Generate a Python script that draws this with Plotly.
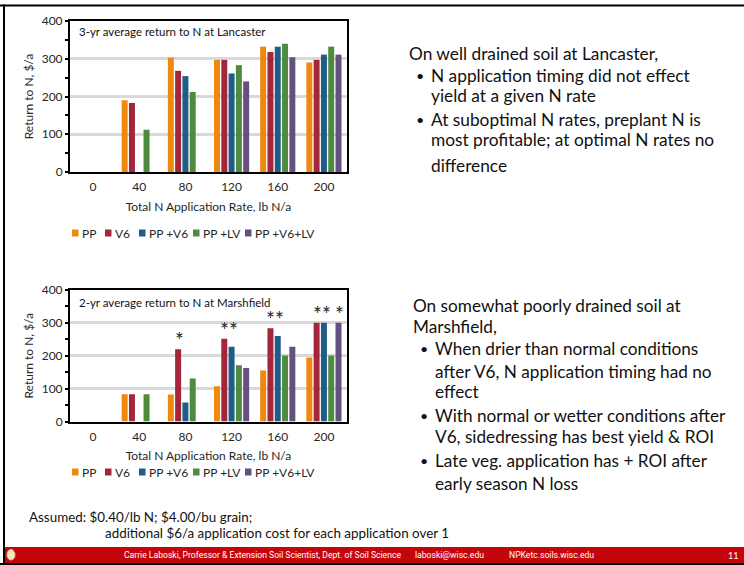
import plotly.graph_objects as go

W, H = 744, 565

# ---- data -------------------------------------------------------------
rates = ["0", "40", "80", "120", "160", "200"]
series = ["PP", "V6", "PP +V6", "PP +LV", "PP +V6+LV"]
colors = ["#F0870F", "#A3263A", "#1F5C87", "#4E8A3F", "#66507F"]

# Lancaster, 3-yr average return to N ($/a)
lan_pp = [None, 190, 303, 297, 332, 290]
lan_v6 = [None, 183, 268, 297, 318, 297]
lan_pp_v6 = [None, None, 254, 261, 332, 311]
lan_pp_lv = [None, 112, 212, 283, 340, 332]
lan_pp_v6_lv = [None, None, None, 240, 304, 311]

# Marshfield, 2-yr average return to N ($/a)
mar_pp = [None, 83, 82, 107, 155, 195]
mar_v6 = [None, 83, 220, 252, 284, 300]
mar_pp_v6 = [None, None, 58, 227, 260, 300]
mar_pp_lv = [None, 83, 131, 171, 201, 201]
mar_pp_v6_lv = [None, None, None, 163, 227, 300]

# significant differences marked with an asterisk (rate, treatment)
mar_sig = [("80", "V6"), ("120", "V6"), ("120", "PP +V6"),
           ("160", "V6"), ("160", "PP +V6"),
           ("200", "V6"), ("200", "PP +V6"), ("200", "PP +V6+LV")]

lan_title = "3-yr average return to N at Lancaster"
mar_title = "2-yr average return to N at Marshfield"
x_title = "Total N Application Rate, lb N/a"
y_title = "Return to N, $/a"

lan_notes = [
    (0, "On well drained soil at Lancaster,"),
    (1, "N application timing did not effect"),
    (2, "yield at a given N rate"),
    (1, "At suboptimal N rates, preplant N is"),
    (2, "most profitable; at optimal N rates no"),
    (2, "difference"),
]
mar_notes = [
    (0, "On somewhat poorly drained soil at"),
    (0, "Marshfield,"),
    (1, "When drier than normal conditions"),
    (2, "after V6, N application timing had no"),
    (2, "effect"),
    (1, "With normal or wetter conditions after"),
    (2, "V6, sidedressing has best yield & ROI"),
    (1, "Late veg. application has + ROI after"),
    (2, "early season N loss"),
]
assumed = ["Assumed: $0.40/lb N; $4.00/bu grain;",
           "additional $6/a application cost for each application over 1"]
footer = ["Carrie Laboski, Professor & Extension Soil Scientist, Dept. of Soil Science",
          "laboski@wisc.edu", "NPKetc.soils.wisc.edu"]
slide_no = "11"

# ---- helpers ------------------------------------------------------------
def px(x):
    return x / W


def py(y):
    return 1 - y / H


BARGAP = 0.21
FONT = "Lato, 'Open Sans', sans-serif"
TXT = "#262626"

fig = go.Figure()

lan_vals = [lan_pp, lan_v6, lan_pp_v6, lan_pp_lv, lan_pp_v6_lv]
mar_vals = [mar_pp, mar_v6, mar_pp_v6, mar_pp_lv, mar_pp_v6_lv]

for name, col, vals in zip(series, colors, lan_vals):
    fig.add_trace(go.Bar(x=rates, y=vals, name=name, marker_color=col,
                         marker_line_width=0, showlegend=False,
                         xaxis="x", yaxis="y"))
for name, col, vals in zip(series, colors, mar_vals):
    fig.add_trace(go.Bar(x=rates, y=vals, name=name, marker_color=col,
                         marker_line_width=0, showlegend=False,
                         xaxis="x2", yaxis="y2"))

annotations = []
shapes = []

# asterisks above marked bars; adjacent marks share one label ("**")
slot = (1 - BARGAP) / len(series)
for ci, rate in enumerate(rates):
    idx = sorted(series.index(t) for r, t in mar_sig if r == rate)
    if not idx:
        continue
    top = max(mar_vals[i][ci] for i in idx)
    runs = [[idx[0]]]
    for i in idx[1:]:
        if i == runs[-1][-1] + 1:
            runs[-1].append(i)
        else:
            runs.append([i])
    for run in runs:
        centre = sum(run) / len(run) - (len(series) - 1) / 2
        annotations.append(dict(
            x=ci + centre * slot + 0.03, y=top,
            xref="x2", yref="y2", text="*" * len(run), showarrow=False,
            yanchor="bottom", xanchor="center", yshift=-5,
            font=dict(family=FONT, size=21, color=TXT)))


def axis_pair(xdom, ydom):
    xa = dict(domain=xdom, type="category", categoryorder="array",
              categoryarray=rates, showline=True, mirror=True,
              linecolor="black", linewidth=2, ticks="", showgrid=False,
              automargin=False, ticklabelstandoff=3,
              tickfont=dict(family=FONT, size=12, color=TXT),
              title=dict(text=x_title, standoff=9,
                         font=dict(family=FONT, size=12, color=TXT)))
    ya = dict(domain=ydom, range=[0, 400], dtick=100, showgrid=True,
              gridcolor="#D9D9D9", gridwidth=2.5, zeroline=False,
              showline=True, mirror=True, linecolor="black", linewidth=2,
              ticks="outside", ticklen=3, tickwidth=2, tickcolor="black",
              automargin=False,
              minor=dict(dtick=50, ticks="outside", ticklen=3, tickwidth=2,
                         tickcolor="black", showgrid=False),
              tickfont=dict(family=FONT, size=12, color=TXT),
              title=dict(text=y_title, standoff=6,
                         font=dict(family=FONT, size=12, color=TXT)))
    return xa, ya


xa1, ya1 = axis_pair([px(70), px(347)], [py(172), py(21)])
xa2, ya2 = axis_pair([px(70), px(347)], [py(421.5), py(290)])
ya1["anchor"] = "x"
xa1["anchor"] = "y"
xa2["anchor"] = "y2"
ya2["anchor"] = "x2"

# chart titles inside the plot frames
for txt, yy in ((lan_title, 31), (mar_title, 302.5)):
    annotations.append(dict(x=px(77), y=py(yy), xref="paper", yref="paper",
                            text=txt, showarrow=False, xanchor="left",
                            yanchor="middle",
                            font=dict(family=FONT, size=11.5, color="#111")))

# legends under each chart
sq_x = [72, 105, 139, 193, 245]
for ly in (233, 472):
    for xs, name, col in zip(sq_x, series, colors):
        shapes.append(dict(type="rect", xref="paper", yref="paper",
                           x0=px(xs), x1=px(xs + 6.5), y0=py(ly + 3.5),
                           y1=py(ly - 3.5), fillcolor=col, line_width=0))
        annotations.append(dict(x=px(xs + 8), y=py(ly), xref="paper",
                                yref="paper", text=name, showarrow=False,
                                xanchor="left", yanchor="middle",
                                font=dict(family=FONT, size=12, color=TXT)))


# bullet notes on the right
def add_notes(notes, x0, y_list, size):
    for (lvl, line), yy in zip(notes, y_list):
        if lvl == 0:
            xx = x0
        else:
            xx = x0 + 22
        if lvl == 1:
            annotations.append(dict(x=px(x0 + 7), y=py(yy), xref="paper",
                                    yref="paper", text="•", showarrow=False,
                                    xanchor="left", yanchor="middle",
                                    font=dict(family=FONT, size=size - 3,
                                              color="#111")))
        annotations.append(dict(x=px(xx), y=py(yy), xref="paper",
                                yref="paper", text=line, showarrow=False,
                                xanchor="left", yanchor="middle",
                                font=dict(family=FONT, size=size,
                                          color="#111")))


add_notes(lan_notes, 407, [54, 75.5, 95.5, 119, 140, 165], 17.3)
add_notes(mar_notes, 411, [305, 326.5, 348, 371, 391.5, 415, 436.5, 460, 483],
          17.2)

# assumptions
annotations.append(dict(x=px(27), y=py(517), xref="paper", yref="paper",
                        text=assumed[0], showarrow=False, xanchor="left",
                        yanchor="middle",
                        font=dict(family=FONT, size=13.4, color="#111")))
annotations.append(dict(x=px(103), y=py(533), xref="paper", yref="paper",
                        text=assumed[1], showarrow=False, xanchor="left",
                        yanchor="middle",
                        font=dict(family=FONT, size=13.4, color="#111")))

# slide frame and footer band
shapes += [
    dict(type="rect", xref="paper", yref="paper", x0=px(4), x1=1,
         y0=py(563), y1=py(547), fillcolor="#C5050C", line_width=0),
    dict(type="line", xref="paper", yref="paper", x0=0, x1=1,
         y0=py(564), y1=py(564), line=dict(color="black", width=2)),
    dict(type="line", xref="paper", yref="paper", x0=0, x1=1,
         y0=py(5.5), y1=py(5.5), line=dict(color="black", width=2)),
    dict(type="line", xref="paper", yref="paper", x0=px(4), x1=px(4),
         y0=py(4.5), y1=0, line=dict(color="black", width=2)),
    # crest
    dict(type="circle", xref="paper", yref="paper", x0=px(7), x1=px(15),
         y0=py(560), y1=py(549.5), fillcolor="#F3E6C8",
         line=dict(color="#E8C66A", width=1)),
]
annotations.append(dict(x=px(11), y=py(555), xref="paper", yref="paper",
                        text="W", showarrow=False,
                        font=dict(family=FONT, size=6, color="#C5050C")))

foot_font = dict(family="Roboto, sans-serif", size=8.6, color="white")
for txt, xx in zip(footer, [122, 413, 507]):
    annotations.append(dict(x=px(xx), y=py(555), xref="paper", yref="paper",
                            text=txt, showarrow=False, xanchor="left",
                            yanchor="middle", font=foot_font))
annotations.append(dict(x=px(740), y=py(555), xref="paper", yref="paper",
                        text=slide_no, showarrow=False, xanchor="right",
                        yanchor="middle",
                        font=dict(family=FONT, size=9, color="white")))

fig.update_layout(
    width=W, height=H, margin=dict(l=0, r=0, t=0, b=0, autoexpand=False),
    paper_bgcolor="white", plot_bgcolor="white",
    barmode="group", bargap=BARGAP, bargroupgap=0.18,
    xaxis=xa1, yaxis=ya1, xaxis2=xa2, yaxis2=ya2,
    annotations=annotations, shapes=shapes, showlegend=False,
    font=dict(family=FONT),
)

fig.write_html("out.html")
